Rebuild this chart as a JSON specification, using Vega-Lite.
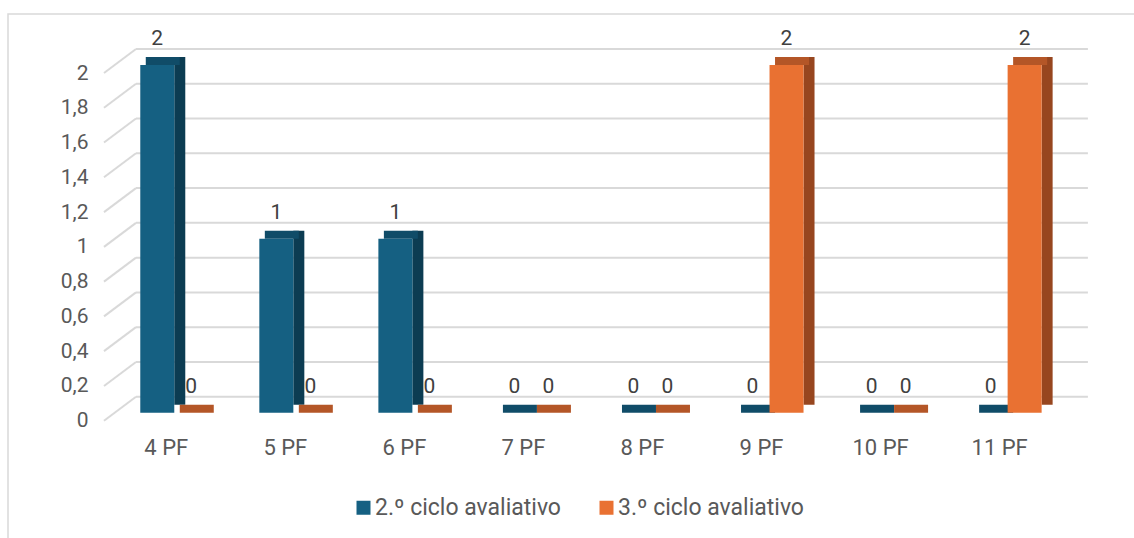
{
  "$schema": "https://vega.github.io/schema/vega-lite/v6.json",
  "autosize": "none",
  "padding": {"left": 8, "top": 14, "right": 0, "bottom": 0},
  "width": 1140,
  "height": 530,
  "background": "#ffffff",
  "config": {
    "view": {"stroke": "#d9d9d9", "strokeWidth": 1.5},
    "font": "Roboto",
    "axisX": {"offset": -107, "ticks": false, "domain": false, "labelPadding": 0, "labelFontSize": 22, "labelColor": "#595959", "labelOffset": -8, "labelAngle": 0, "labelBaseline": "top", "grid": false},
    "axisY": {"offset": -82, "labelPadding": 2, "ticks": false, "domain": false, "grid": false, "labelFontSize": 21, "labelColor": "#595959", "labelOffset": 8}
  },
  "datasets": {
    "bars": [
      {"cat": "4 PF", "c2": 2, "c3": 0},
      {"cat": "5 PF", "c2": 1, "c3": 0},
      {"cat": "6 PF", "c2": 1, "c3": 0},
      {"cat": "7 PF", "c2": 0, "c3": 0},
      {"cat": "8 PF", "c2": 0, "c3": 0},
      {"cat": "9 PF", "c2": 0, "c3": 2},
      {"cat": "10 PF", "c2": 0, "c3": 0},
      {"cat": "11 PF", "c2": 0, "c3": 2}
    ],
    "ticks": [
      {"v": 0}, {"v": 0.2}, {"v": 0.4}, {"v": 0.6}, {"v": 0.8}, {"v": 1},
      {"v": 1.2}, {"v": 1.4}, {"v": 1.6}, {"v": 1.8}, {"v": 2}
    ]
  },
  "data": {"name": "bars"},
  "layer": [
    {
      "data": {"name": "ticks"},
      "mark": {"type": "rule", "color": "#d9d9d9", "strokeWidth": 2, "xOffset": -4, "x2Offset": 46, "yOffset": -16},
      "encoding": {
        "x": {"datum": "4 PF", "type": "nominal", "bandPosition": 0, "title": null},
        "x2": {"datum": "11 PF", "bandPosition": 1},
        "y": {
          "field": "v", "type": "quantitative", "title": null,
          "scale": {"domain": [-0.7552, 2.2934], "nice": false, "zero": false},
          "axis": {
            "values": [0, 0.2, 0.4, 0.6, 0.8, 1, 1.2, 1.4, 1.6, 1.8, 2],
            "labelExpr": "replace(format(datum.value, '~g'), '.', ',')"
          }
        }
      }
    },
    {
      "data": {"name": "ticks"},
      "mark": {"type": "rule", "color": "#d9d9d9", "strokeWidth": 2, "xOffset": -36, "x2Offset": -4, "yOffset": 8, "y2Offset": -16},
      "encoding": {
        "x": {"datum": "4 PF", "type": "nominal", "bandPosition": 0, "title": null},
        "x2": {"datum": "4 PF", "bandPosition": 0},
        "y": {"field": "v", "type": "quantitative", "title": null},
        "y2": {"field": "v"}
      }
    },
    {
      "mark": {"type": "bar", "width": 11, "xOffset": 5.5, "yOffset": -8, "y2Offset": -8, "color": "#0c3c52"},
      "encoding": {
        "x": {"field": "cat", "type": "nominal", "sort": null, "title": null},
        "y": {"field": "c2", "type": "quantitative", "title": null},
        "y2": {"datum": 0}
      }
    },
    {
      "mark": {"type": "bar", "width": 34, "xOffset": -11.5, "yOffset": -8, "color": "#104c68"},
      "encoding": {
        "x": {"field": "cat", "type": "nominal", "sort": null, "title": null},
        "y": {"field": "c2", "type": "quantitative", "title": null},
        "y2": {"field": "c2"}
      }
    },
    {
      "mark": {"type": "bar", "width": 34, "xOffset": -17},
      "encoding": {
        "x": {
          "field": "cat", "type": "nominal", "sort": null, "title": null,
          "scale": {"domain": ["4 PF", "5 PF", "6 PF", "7 PF", "8 PF", "9 PF", "10 PF", "11 PF"], "paddingInner": 0.4242, "paddingOuter": 1.0385, "align": 0.5544}
        },
        "y": {"field": "c2", "type": "quantitative", "title": null},
        "y2": {"datum": 0},
        "color": {
          "datum": "2.º ciclo avaliativo",
          "scale": {"domain": ["2.º ciclo avaliativo", "3.º ciclo avaliativo"], "range": ["#156082", "#e97132"]},
          "legend": {
            "title": null, "orient": "none", "legendX": 344, "legendY": 482, "direction": "horizontal",
            "symbolType": "square", "symbolSize": 196, "symbolStrokeWidth": 0, "labelFontSize": 23,
            "labelColor": "#595959", "columnPadding": 34, "labelOffset": 0, "labelLimit": 400
          }
        }
      }
    },
    {
      "mark": {"type": "bar", "width": 11, "xOffset": 39.5, "yOffset": -8, "y2Offset": -8, "color": "#97461f"},
      "encoding": {
        "x": {"field": "cat", "type": "nominal", "sort": null, "title": null},
        "y": {"field": "c3", "type": "quantitative", "title": null},
        "y2": {"datum": 0}
      }
    },
    {
      "mark": {"type": "bar", "width": 34, "xOffset": 22.5, "yOffset": -8, "color": "#b45627"},
      "encoding": {
        "x": {"field": "cat", "type": "nominal", "sort": null, "title": null},
        "y": {"field": "c3", "type": "quantitative", "title": null},
        "y2": {"field": "c3"}
      }
    },
    {
      "mark": {"type": "bar", "width": 34, "xOffset": 17},
      "encoding": {
        "x": {"field": "cat", "type": "nominal", "sort": null, "title": null},
        "y": {"field": "c3", "type": "quantitative", "title": null},
        "y2": {"datum": 0},
        "color": {"datum": "3.º ciclo avaliativo"}
      }
    },
    {
      "mark": {"type": "text", "xOffset": -17, "dy": -26, "baseline": "middle", "fontSize": 21, "color": "#404040"},
      "encoding": {
        "x": {"field": "cat", "type": "nominal", "sort": null, "title": null},
        "y": {"field": "c2", "type": "quantitative", "title": null},
        "text": {"field": "c2", "type": "quantitative"}
      }
    },
    {
      "mark": {"type": "text", "xOffset": 17, "dy": -26, "baseline": "middle", "fontSize": 21, "color": "#404040"},
      "encoding": {
        "x": {"field": "cat", "type": "nominal", "sort": null, "title": null},
        "y": {"field": "c3", "type": "quantitative", "title": null},
        "text": {"field": "c3", "type": "quantitative"}
      }
    }
  ]
}
